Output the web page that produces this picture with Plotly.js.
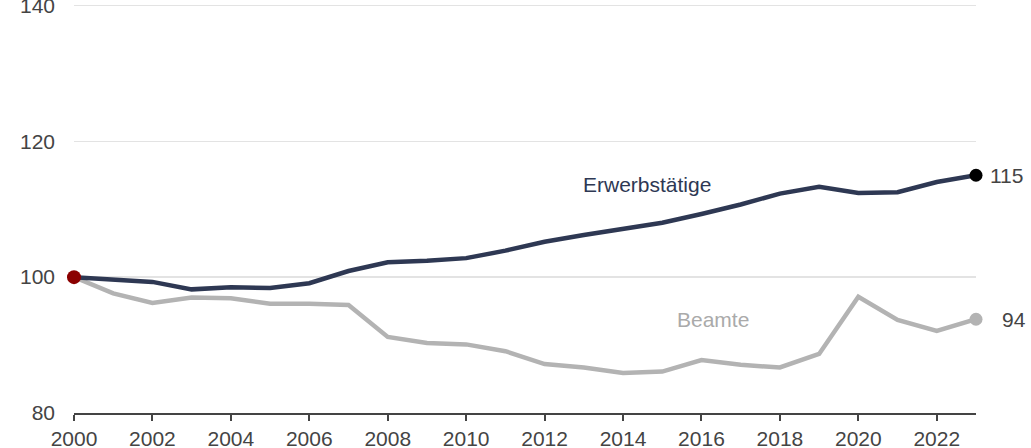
<!DOCTYPE html>
<html>
<head>
<meta charset="utf-8">
<script src="https://cdn.plot.ly/plotly-3.0.1.min.js"></script>
<style>
html,body{margin:0;padding:0;background:#fff;}
#chart{width:1031px;height:448px;}
</style>
</head>
<body>
<div id="chart"></div>
<script>
const years = [2000,2001,2002,2003,2004,2005,2006,2007,2008,2009,2010,2011,2012,2013,2014,2015,2016,2017,2018,2019,2020,2021,2022,2023];
const erwerbstaetige = [100,99.7,99.3,98.2,98.5,98.4,99.1,100.9,102.2,102.4,102.8,103.9,105.2,106.2,107.1,108.0,109.3,110.7,112.3,113.3,112.4,112.5,114.0,115.0];
const beamte = [100,97.6,96.2,97.0,96.9,96.1,96.1,95.9,91.2,90.3,90.1,89.1,87.2,86.7,85.9,86.1,87.8,87.1,86.7,88.7,97.1,93.7,92.1,93.8];
const seriesNames = ["Erwerbstätige","Beamte"];
const endLabels = ["115","94"];
const yTicks = [80,100,120,140];
const xTicks = [2000,2002,2004,2006,2008,2010,2012,2014,2016,2018,2020,2022];

const navy = "#2e3853";
const grey = "#b3b3b3";
const font = "Liberation Sans, Arial, sans-serif";
const fs = 21;
const last = years.length - 1;
const topTick = yTicks[yTicks.length - 1];

const traces = [
  {x: years, y: beamte, mode: "lines", line: {color: grey, width: 4.5}, hoverinfo: "skip", cliponaxis: false},
  {x: years, y: erwerbstaetige, mode: "lines", line: {color: navy, width: 4.5}, hoverinfo: "skip", cliponaxis: false},
  {x: [years[last]], y: [beamte[last]], mode: "markers", marker: {color: grey, size: 13}, cliponaxis: false},
  {x: [years[last]], y: [erwerbstaetige[last]], mode: "markers", marker: {color: "#000000", size: 13}, cliponaxis: false},
  {x: [years[0]], y: [erwerbstaetige[0]], mode: "markers", marker: {color: "#8b0000", size: 14}, cliponaxis: false}
];

const layout = {
  width: 1031, height: 448,
  margin: {l: 74, r: 55, t: 0, b: 35},
  paper_bgcolor: "#fff", plot_bgcolor: "#fff",
  showlegend: false,
  font: {family: font, size: fs, color: "#444"},
  xaxis: {
    range: [2000, 2023], tickvals: xTicks, ticktext: xTicks.map(String),
    showgrid: false, zeroline: false,
    showline: true, linecolor: "#444", linewidth: 2,
    ticks: "outside", ticklen: 6, tickwidth: 2, tickcolor: "#444",
    tickfont: {family: font, size: fs, color: "#444"}
  },
  yaxis: {
    range: [80, 140.8], tickvals: yTicks,
    ticktext: yTicks.map(v => v === topTick ? "" : String(v)),
    showgrid: true, gridcolor: "#e3e3e3", gridwidth: 1.5, zeroline: false,
    showline: false, ticks: "", ticklabelstandoff: 18,
    tickfont: {family: font, size: fs, color: "#444"}
  },
  annotations: [
    {xref: "paper", x: 0, y: topTick, text: String(topTick), showarrow: false, xanchor: "right", xshift: -17, font: {family: font, size: fs, color: "#444"}},
    {x: 2014.6, y: 113.7, text: seriesNames[0], showarrow: false, font: {family: font, size: fs, color: navy}},
    {x: 2016.3, y: 93.8, text: seriesNames[1], showarrow: false, font: {family: font, size: fs, color: "#aaaaaa"}},
    {x: years[last], y: erwerbstaetige[last], text: endLabels[0], showarrow: false, xanchor: "left", xshift: 12, font: {family: font, size: fs, color: "#444"}},
    {x: years[last], y: beamte[last], text: endLabels[1], showarrow: false, xanchor: "left", xshift: 24, font: {family: font, size: fs, color: "#444"}}
  ]
};

Plotly.newPlot("chart", traces, layout, {displayModeBar: false, staticPlot: true});
</script>
</body>
</html>
